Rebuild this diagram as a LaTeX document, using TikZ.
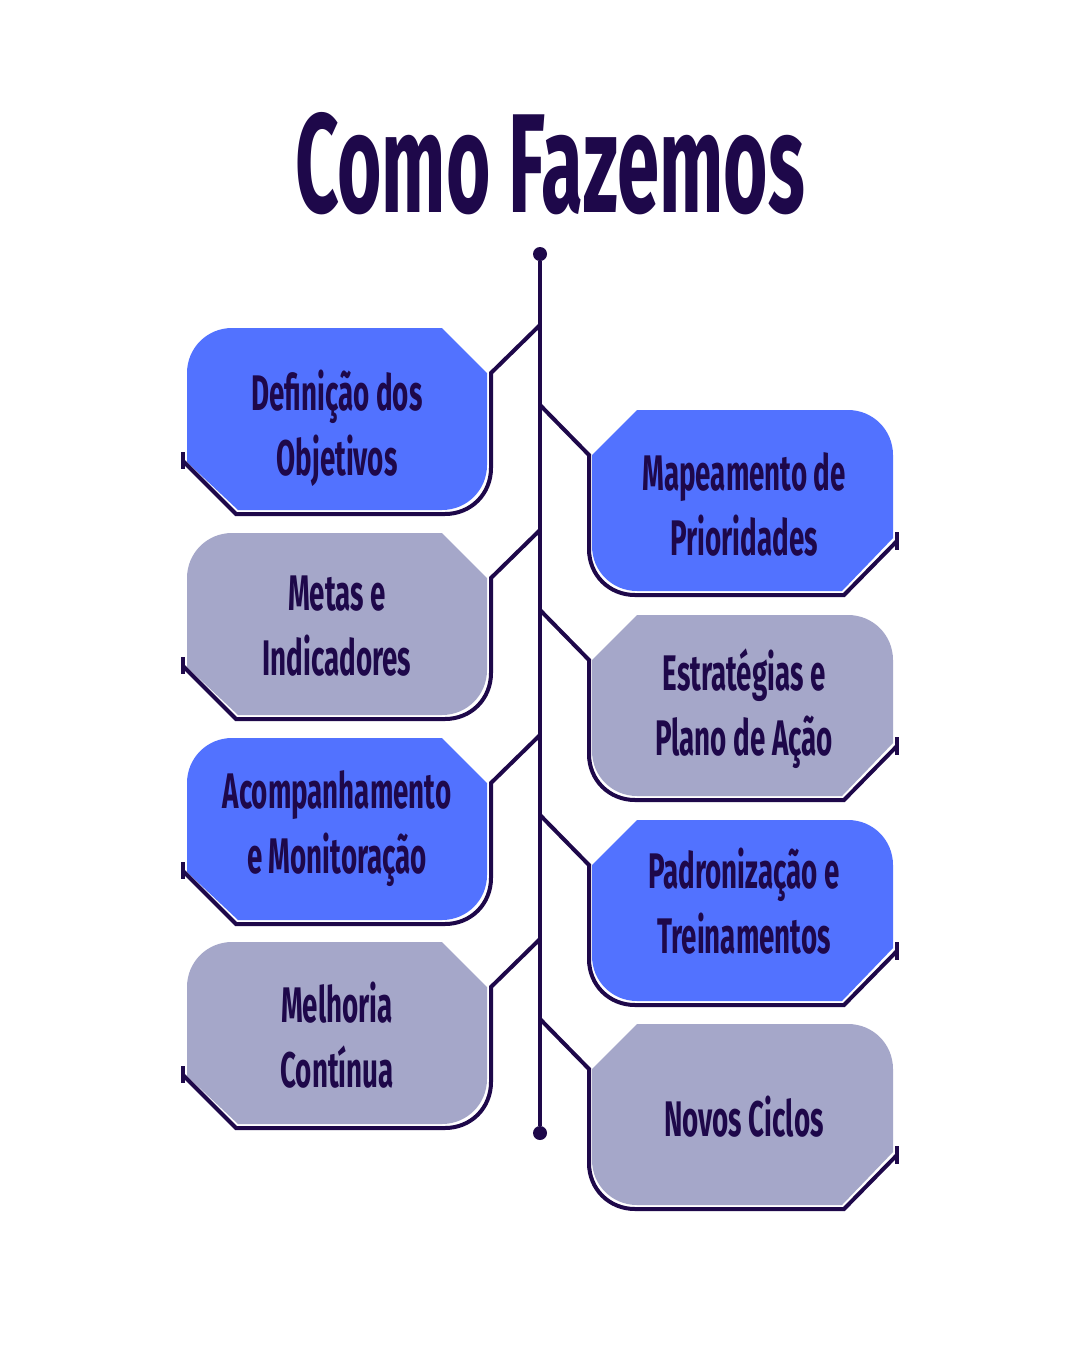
\documentclass[tikz,border=0pt]{standalone}
\usepackage{fontspec}
\newfontfamily\stepfont{Fira Sans}[FakeStretch=0.555]
\newfontfamily\titlefont{Fira Sans}[FakeStretch=0.54]
\definecolor{stepblue}{RGB}{82, 114, 255}
\definecolor{stepgrey}{RGB}{165, 167, 201}
\definecolor{stepnavy}{RGB}{30, 8, 74}

\tikzset{
    stepline/.style={draw=stepnavy, line width=4pt},
    % anchored at the baseline of the last line
    steptext/.style={text=stepnavy, align=center, inner sep=0pt, anchor=base,
        font=\stepfont\bfseries\fontsize{50}{65}\selectfont},
    % box on the left of the line, origin at its top left corner
    leftstep/.pic={
        \fill[#1] (0,134) -- (0,45) .. controls (0,20) and (20,0) .. (45,0) -- (255,0) -- (300,45)
            -- (300,137) .. controls (300,162) and (280,182) .. (255,182) -- (51,182) -- cycle;
        \draw[stepline] (353,-3) -- (304,45) -- (304,140) .. controls (304,166) and (284,186) .. (258,186)
            -- (49,186) -- (-4,133);
        \draw[stepline] (-4,124) -- (-4,141);
    },
    % box on the right of the line
    rightstep/.pic={
        \fill[#1] (0,45) -- (45,0) -- (256,0) .. controls (281,0) and (301,20) .. (301,45)
            -- (301,128) -- (250,181) -- (45,181) .. controls (20,181) and (0,161) .. (0,136) -- cycle;
        \draw[stepline] (-52,-5) -- (-3,45) -- (-3,139) .. controls (-3,165) and (17,185) .. (43,185)
            -- (252,185) -- (305,131);
        \draw[stepline] (305,122) -- (305,140);
    }
}

\begin{document}
\begin{tikzpicture}[x=1pt, y=-1pt]
        \useasboundingbox[fill=white] (0,0) rectangle (1080,1350);

        % Title
        \node[anchor=base, text=stepnavy, inner sep=0pt, font=\titlefont\bfseries\fontsize{141}{141}\selectfont]
            (title) at (550,212) {Como Fazemos};

        % Line
        \node[circle, fill=stepnavy, minimum size=14pt, inner sep=0pt] (spinetop) at (540,254) {};
        \node[circle, fill=stepnavy, minimum size=14pt, inner sep=0pt] (spinebot) at (540,1133) {};
        \draw[stepline] (spinetop) -- (spinebot);

        % Blue - Definicao dos Objetivos
        \pic at (187,328) {leftstep=stepblue};
        \node[steptext] (objetivos) at (337,475) {Definição dos\\Objetivos};

        % Blue - Mapeamento de Prioridades
        \pic at (592,410) {rightstep=stepblue};
        \node[steptext] (prioridades) at (744,555) {Mapeamento de\\Prioridades};

        % Grey - Metas e Indicadores
        \pic at (187,533) {leftstep=stepgrey};
        \node[steptext] (metas) at (337,675) {Metas e\\Indicadores};

        % Grey - Estrategias e Plano de Acao
        \pic at (592,615) {rightstep=stepgrey};
        \node[steptext] (estrategias) at (744,755) {Estratégias e\\Plano de Ação};

        % Blue - Acompanhamento e Monitoracao
        \pic at (187,738) {leftstep=stepblue};
        \node[steptext] (acompanhamento) at (337,873) {Acompanhamento\\e Monitoração};

        % Blue - Padronizacao e Treinamentos
        \pic at (592,820) {rightstep=stepblue};
        \node[steptext] (padronizacao) at (744,953) {Padronização e\\Treinamentos};

        % Grey - Melhoria Continua
        \pic at (187,942) {leftstep=stepgrey};
        \node[steptext] (melhoria) at (337,1087) {Melhoria\\Contínua};

        % Grey - Novos Ciclos
        \pic at (592,1024) {rightstep=stepgrey};
        \node[steptext, anchor=center] (novos) at (744,1117) {Novos Ciclos};
    \end{tikzpicture}
\end{document}
